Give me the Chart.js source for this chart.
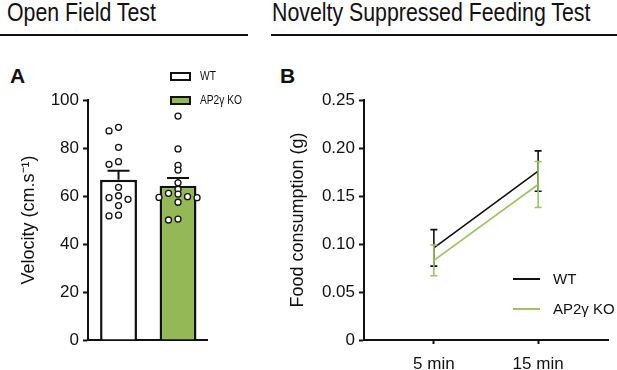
<!DOCTYPE html>
<html>
<head>
<meta charset="utf-8">
<script src="https://cdn.jsdelivr.net/npm/chart.js@4.4.1/dist/chart.umd.min.js"></script>
<style>
  body { margin: 0; background: #fff; }
  #fig { position: relative; width: 617px; height: 370px; font-family: "Liberation Sans", Arial, sans-serif; color: #111; }
  .head { position: absolute; top: -1px; font-size: 26px; line-height: 26px; white-space: nowrap; transform: scaleX(0.82); transform-origin: left top; }
  .rule { position: absolute; top: 34px; height: 2px; background: #111; }
  .tag { position: absolute; top: 65px; font-weight: bold; font-size: 21px; line-height: 21px; }
  canvas { position: absolute; top: 0; }
  .lgA { position: absolute; left: 170px; font-size: 12px; line-height: 12px; white-space: nowrap; }
  .lgA span { display: inline-block; box-sizing: border-box; width: 21px; height: 9px; border: 2px solid #111; margin-right: 9px; vertical-align: -1px; }
  .lgA b { font-weight: normal; display: inline-block; transform: scaleX(0.85); transform-origin: left center; }
  .lgB { position: absolute; left: 513px; font-size: 15px; line-height: 16px; white-space: nowrap; }
  .lgB span { display: inline-block; width: 27px; height: 2px; margin-right: 13px; vertical-align: 4px; }
</style>
</head>
<body>
<div id="fig">
  <div class="head" style="left:7px">Open Field Test</div>
  <div class="rule" style="left:0;width:248px"></div>
  <div class="head" style="left:272px">Novelty Suppressed Feeding Test</div>
  <div class="rule" style="left:271px;width:346px"></div>
  <div class="tag" style="left:10px">A</div>
  <div class="tag" style="left:280px">B</div>
  <canvas id="chartA" width="260" height="370" style="left:0"></canvas>
  <canvas id="chartB" width="357" height="370" style="left:260px"></canvas>
  <div id="legendA"></div>
  <div id="legendB"></div>
</div>
<script>
// groups and values
const groups = ["WT", "AP2γ KO"];
const groupColors = ["#ffffff", "#92b955"];
const wtVelocity = [88.6, 87.1, 80.3, 74.3, 73.2, 63.6, 60.1, 59.3, 58.6, 56.0, 52.0, 51.7];
const koVelocity = [93.3, 79.6, 72.8, 70.8, 65.5, 62.8, 61.1, 60.8, 59.7, 59.4, 59.3, 57.4, 50.4, 50.0];
const velocityMean = [66.8, 64.3];
const velocitySem = [3.7, 3.2];
const velocityTicks = [0, 20, 40, 60, 80, 100];

const times = ["5 min", "15 min"];
const wtFood = [0.096, 0.176];
const wtFoodSem = [0.019, 0.021];
const koFood = [0.083, 0.162];
const koFoodSem = [0.016, 0.024];
const foodTicks = [0, 0.05, 0.10, 0.15, 0.20, 0.25];
const lineColors = ["#111111", "#9dc262"];

const tickFont = { family: "Liberation Sans", size: 17 };
const titleFont = { family: "Liberation Sans", size: 18 };

// simple beeswarm so close values sit side by side
function swarm(values, center) {
  const placed = [];
  return values.map(v => {
    for (const k of [0, -1, 1, -2, 2, -3, 3]) {
      const clash = placed.some(p => p.k === k && Math.abs(p.v - v) < 2);
      if (!clash) {
        placed.push({ k, v });
        return { x: center + k * 0.16, y: v };
      }
    }
    return { x: center, y: v };
  });
}

// draws mean +/- sem bars from the plugin options
const errorBars = {
  id: "errorBars",
  afterDatasetDraw(chart, args, opts) {
    const set = (opts.sets || []).find(s => s.datasetIndex === args.index);
    if (!set) return;
    const { ctx } = chart;
    const y = chart.scales.y;
    const meta = chart.getDatasetMeta(set.datasetIndex);
    ctx.save();
    ctx.strokeStyle = set.color;
    ctx.lineWidth = set.width;
    meta.data.forEach((el, i) => {
      const px = el.x;
      const top = y.getPixelForValue(set.means[i] + set.sem[i]);
      const bottom = y.getPixelForValue(set.upOnly ? set.means[i] : set.means[i] - set.sem[i]);
      ctx.beginPath();
      ctx.moveTo(px, top);
      ctx.lineTo(px, bottom);
      ctx.moveTo(px - set.cap / 2, top);
      ctx.lineTo(px + set.cap / 2, top);
      if (!set.upOnly) {
        ctx.moveTo(px - set.cap / 2, bottom);
        ctx.lineTo(px + set.cap / 2, bottom);
      }
      ctx.stroke();
    });
    ctx.restore();
  }
};

const fixedTicks = values => axis => { axis.ticks = values.map(v => ({ value: v })); };

// panel A: bars with individual animals
new Chart(document.getElementById("chartA"), {
  type: "bar",
  data: {
    datasets: [
      {
        type: "scatter",
        label: "animals",
        data: [...swarm(wtVelocity, 0), ...swarm(koVelocity, 1)],
        pointRadius: 3,
        pointBorderWidth: 1.3,
        pointBackgroundColor: "#ffffff",
        pointBorderColor: "#111111",
        order: 1
      },
      {
        label: "Velocity",
        data: velocityMean.map((m, i) => ({ x: i, y: m })),
        backgroundColor: groupColors,
        borderColor: "#111111",
        borderWidth: 2.5,
        barPercentage: 0.62,
        categoryPercentage: 1,
        order: 2
      }
    ]
  },
  options: {
    responsive: false,
    animation: false,
    layout: { padding: { left: 10, right: 53, top: 100, bottom: 0 } },
    plugins: {
      legend: { display: false },
      tooltip: { enabled: false },
      errorBars: { sets: [{ datasetIndex: 1, means: velocityMean, sem: velocitySem, color: "#111111", width: 2, cap: 22, upOnly: true }] }
    },
    scales: {
      x: {
        type: "linear",
        offset: false,
        min: -0.513,
        max: 1.487,
        afterBuildTicks: fixedTicks([0, 1]),
        afterFit: s => { s.height = 30; },
        ticks: { display: false },
        grid: { display: false, offset: false },
        border: { display: true, color: "#111111", width: 2 }
      },
      y: {
        min: 0,
        max: 100,
        afterBuildTicks: fixedTicks(velocityTicks),
        afterFit: s => { s.width = 78; },
        ticks: { font: tickFont, color: "#111111", padding: 4 },
        grid: { drawOnChartArea: false, tickLength: 5, tickWidth: 2, tickColor: "#111111" },
        border: { color: "#111111", width: 2 },
        title: { display: true, text: "Velocity (cm.s⁻¹)", font: titleFont, color: "#111111", padding: { top: 8 } }
      }
    }
  },
  plugins: [errorBars]
});

// panel B: food consumption over time
new Chart(document.getElementById("chartB"), {
  type: "line",
  data: {
    datasets: [
      {
        label: groups[0],
        data: wtFood.map((v, i) => ({ x: i, y: v })),
        borderColor: lineColors[0],
        borderWidth: 1.6,
        pointRadius: 0,
        order: 2
      },
      {
        label: groups[1],
        data: koFood.map((v, i) => ({ x: i, y: v })),
        borderColor: lineColors[1],
        borderWidth: 1.6,
        pointRadius: 0,
        order: 1
      }
    ]
  },
  options: {
    responsive: false,
    animation: false,
    layout: { padding: { left: 10, right: 9, top: 100, bottom: 0 } },
    plugins: {
      legend: { display: false },
      tooltip: { enabled: false },
      errorBars: {
        sets: [
          { datasetIndex: 0, means: wtFood, sem: wtFoodSem, color: lineColors[0], width: 1.6, cap: 7 },
          { datasetIndex: 1, means: koFood, sem: koFoodSem, color: lineColors[1], width: 1.6, cap: 7 }
        ]
      }
    },
    scales: {
      x: {
        type: "linear",
        min: -0.67,
        max: 1.67,
        afterBuildTicks: fixedTicks([0, 1]),
        afterFit: s => { s.height = 30; },
        ticks: { font: tickFont, color: "#111111", padding: 10, callback: v => times[v] },
        grid: { drawOnChartArea: false, tickLength: 4, tickWidth: 2, tickColor: "#111111" },
        border: { color: "#111111", width: 2 }
      },
      y: {
        min: 0,
        max: 0.25,
        afterBuildTicks: fixedTicks(foodTicks),
        afterFit: s => { s.width = 94; },
        ticks: { font: tickFont, color: "#111111", padding: 4, callback: v => v === 0 ? "0" : v.toFixed(2) },
        grid: { drawOnChartArea: false, tickLength: 5, tickWidth: 2, tickColor: "#111111" },
        border: { color: "#111111", width: 2 },
        title: { display: true, text: "Food consumption (g)", font: titleFont, color: "#111111", padding: { top: 17 } }
      }
    }
  },
  plugins: [errorBars]
});

// legends
const legendA = document.getElementById("legendA");
groups.forEach((g, i) => {
  const row = document.createElement("div");
  row.className = "lgA";
  row.style.top = (70 + i * 24) + "px";
  row.innerHTML = `<span style="background:${groupColors[i]}"></span><b>${g}</b>`;
  legendA.appendChild(row);
});
const legendB = document.getElementById("legendB");
groups.forEach((g, i) => {
  const row = document.createElement("div");
  row.className = "lgB";
  row.style.top = (271 + i * 30) + "px";
  row.innerHTML = `<span style="background:${lineColors[i]}"></span>${g}`;
  legendB.appendChild(row);
});
</script>
</body>
</html>
